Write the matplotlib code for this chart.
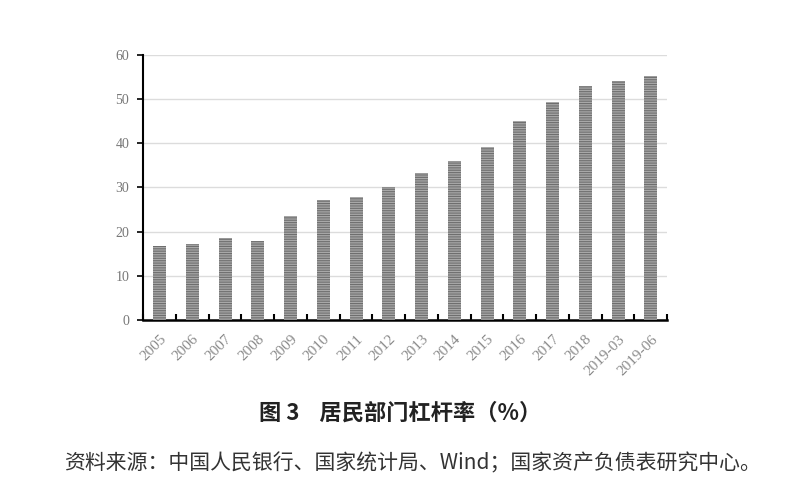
import matplotlib
matplotlib.use("Agg")
import matplotlib.pyplot as plt
import numpy as np

# 居民部门杠杆率 (%)
labels = ['2005', '2006', '2007', '2008', '2009', '2010', '2011', '2012', '2013',
          '2014', '2015', '2016', '2017', '2018', '2019-03', '2019-06']
values = [16.8, 17.3, 18.6, 17.9, 23.5, 27.2, 27.8, 30.1, 33.3,
          36.0, 39.2, 45.0, 49.4, 53.0, 54.1, 55.2]

plt.rcParams['font.family'] = ['Liberation Serif', 'Noto Sans CJK SC', 'DejaVu Sans']
plt.rcParams['hatch.linewidth'] = 0.8

fig = plt.figure(figsize=(8, 4.98), dpi=100)
ax = fig.add_axes([0.179, 0.357, 0.655, 0.533])

x = np.arange(len(labels))
ax.bar(x, values, width=0.4, facecolor='#a8a8a8', edgecolor='#6e6e6e',
       hatch='-------', linewidth=0, zorder=3)

ax.set_xlim(-0.5, len(labels) - 0.5)
ax.set_ylim(0, 60)
ax.set_yticks(range(0, 61, 10))
ax.grid(axis='y', color='#dcdcdc', linewidth=1, zorder=0)

for s in ['right', 'top']:
    ax.spines[s].set_visible(False)
ax.axhline(60, color='#9a9a9a', linewidth=1.2, zorder=1)
ax.spines['left'].set_linewidth(1.5)
ax.spines['bottom'].set_linewidth(1.8)

ax.tick_params(axis='y', length=4, width=1.2, labelsize=10, labelcolor='#777777', pad=6)
ax.set_xticks(x)
ax.set_xticklabels(labels, rotation=45, ha='right', rotation_mode='anchor',
                   fontsize=11, color='#8a8a8a')
ax.tick_params(axis='x', length=0, pad=9)
ax.set_xticks(np.arange(-0.5, len(labels)), minor=True)
ax.tick_params(axis='x', which='minor', direction='in', length=4, width=1.5)

fig.text(0.5, 0.17, '图 3    居民部门杠杆率（%）', ha='center', va='center',
         fontsize=16, fontweight='bold', family=['Noto Sans CJK SC'], color='#222222')
fig.text(0.515, 0.07, '资料来源：中国人民银行、国家统计局、Wind；国家资产负债表研究中心。',
         ha='center', va='center', fontsize=15, family=['Noto Sans CJK SC'], color='#333333')

fig.savefig('out.png', dpi=100)
